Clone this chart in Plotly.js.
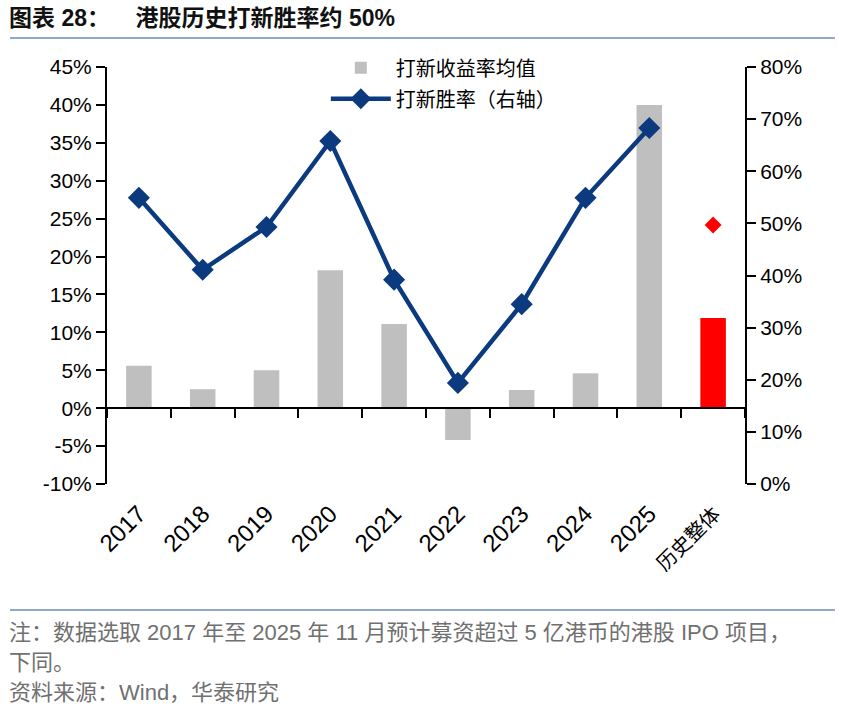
<!DOCTYPE html>
<html>
<head>
<meta charset="utf-8">
<script src="https://cdn.plot.ly/plotly-3.0.1.min.js"></script>
<style>
  body { margin: 0; background: #fff; }
  #chart { width: 842px; height: 712px; }
</style>
</head>
<body>
<div id="chart"></div>
<script>
// categories (x axis)
const categories = ['2017', '2018', '2019', '2020', '2021', '2022', '2023', '2024', '2025', '历史整体'];
// average first-day return of new listings, % (left axis)
const avgReturn = [5.6, 2.5, 5.0, 18.2, 11.1, -4.2, 2.4, 4.6, 40.0, 11.9];
// win rate by year, % (right axis)
const winYears = ['2017', '2018', '2019', '2020', '2021', '2022', '2023', '2024', '2025'];
const winRate = [54.9, 41.1, 49.3, 65.8, 39.2, 19.4, 34.5, 54.9, 68.3];
// overall win rate, % (right axis)
const overallCat = ['历史整体'];
const overallWin = [49.7];

const leftTicks = [-10, -5, 0, 5, 10, 15, 20, 25, 30, 35, 40, 45];
const rightTicks = [0, 10, 20, 30, 40, 50, 60, 70, 80];

const NAVY = '#0B3A7E';
const GREY = '#BFBFBF';
const RED = '#FF0000';
const TEXT = '#000000';
const NOTE = '#707070';
const RULE = '#8FA9C9';
const FONT = '"Liberation Sans", Arial, "Noto Sans CJK SC", sans-serif';
const CJK = '"Noto Sans CJK SC", "Liberation Sans", sans-serif';

const barColors = categories.map(c => c === '历史整体' ? RED : GREY);
// the Chinese category label is set a little smaller than the years
const catLabels = categories.map(c => /^\d+$/.test(c) ? c : '<span style="font-size:20px">' + c + '</span>');

const traces = [
    {
        x: categories,
        y: avgReturn,
        type: 'bar',
        name: '打新收益率均值',
        legendgroup: 'a',
        marker: { color: barColors, line: { width: 0 } },
        width: 0.4,
        xaxis: 'x',
        yaxis: 'y'
    },
    {
        x: winYears,
        y: winRate,
        type: 'scatter',
        mode: 'lines+markers',
        name: '打新胜率（右轴）',
        legendgroup: 'b',
        line: { color: NAVY, width: 4.5 },
        marker: { symbol: 'diamond', size: 17, color: NAVY },
        xaxis: 'x',
        yaxis: 'y2'
    },
    {
        x: overallCat,
        y: overallWin,
        type: 'scatter',
        mode: 'markers',
        showlegend: false,
        marker: { symbol: 'diamond', size: 13, color: RED },
        xaxis: 'x',
        yaxis: 'y2'
    },
    {
        // carries the category labels along the bottom edge
        x: categories,
        y: categories.map(() => null),
        type: 'scatter',
        mode: 'markers',
        showlegend: false,
        hoverinfo: 'skip',
        xaxis: 'x2',
        yaxis: 'y'
    }
];

const tickAxis = {
    showline: true,
    linecolor: '#000',
    linewidth: 2,
    ticks: 'outside',
    ticklen: 9,
    tickwidth: 2,
    tickcolor: '#000',
    showgrid: false,
    zeroline: false,
    tickfont: { family: FONT, size: 21, color: TEXT }
};

const layout = {
    width: 842,
    height: 712,
    paper_bgcolor: '#ffffff',
    plot_bgcolor: '#ffffff',
    font: { family: FONT, color: TEXT, size: 21 },
    margin: { l: 107, r: 97, t: 67, b: 228 },
    showlegend: true,
    legend: {
        x: 0.343,
        y: 1.045,
        xanchor: 'left',
        yanchor: 'top',
        bgcolor: 'rgba(0,0,0,0)',
        font: { family: CJK, size: 20, color: TEXT },
        traceorder: 'grouped',
        tracegroupgap: 2,
        itemwidth: 60
    },
    xaxis: Object.assign({}, tickAxis, {
        type: 'category',
        categoryarray: categories,
        range: [-0.5, categories.length - 0.5],
        anchor: 'free',
        position: 10 / 55,
        tickson: 'boundaries',
        showticklabels: false
    }),
    xaxis2: {
        type: 'category',
        categoryarray: categories,
        tickvals: categories,
        ticktext: catLabels,
        range: [-0.5, categories.length - 0.5],
        overlaying: 'x',
        anchor: 'y',
        side: 'bottom',
        showline: false,
        ticks: '',
        tickangle: -45,
        ticklabelstandoff: 10,
        tickfont: { family: FONT, size: 24, color: TEXT },
        showgrid: false,
        zeroline: false
    },
    yaxis: Object.assign({}, tickAxis, {
        range: [-10, 45],
        tickvals: leftTicks,
        ticktext: leftTicks.map(v => v + '%')
    }),
    yaxis2: Object.assign({}, tickAxis, {
        range: [0, 80],
        tickvals: rightTicks,
        ticktext: rightTicks.map(v => v + '%'),
        overlaying: 'y',
        side: 'right'
    }),
    shapes: [
        { type: 'line', xref: 'paper', yref: 'paper', x0: -0.152, x1: 1.141, y0: 1.0695, y1: 1.0695,
          line: { color: RULE, width: 2 } },
        { type: 'line', xref: 'paper', yref: 'paper', x0: -0.152, x1: 1.141, y0: -0.302, y1: -0.302,
          line: { color: RULE, width: 2 } }
    ],
    annotations: [
        { xref: 'paper', yref: 'paper', x: -0.157, y: 1.117, xanchor: 'left', yanchor: 'middle',
          showarrow: false, text: '<b>图表 28：    港股历史打新胜率约 50%</b>',
          font: { family: FONT, size: 23, color: '#111' } },
        { xref: 'paper', yref: 'paper', x: -0.157, y: -0.357, xanchor: 'left', yanchor: 'middle',
          showarrow: false, text: '注：数据选取 2017 年至 2025 年 11 月预计募资超过 5 亿港币的港股 IPO 项目，',
          font: { family: FONT, size: 22, color: NOTE } },
        { xref: 'paper', yref: 'paper', x: -0.157, y: -0.427, xanchor: 'left', yanchor: 'middle',
          showarrow: false, text: '下同。',
          font: { family: FONT, size: 22, color: NOTE } },
        { xref: 'paper', yref: 'paper', x: -0.157, y: -0.501, xanchor: 'left', yanchor: 'middle',
          showarrow: false, text: '资料来源：Wind，华泰研究',
          font: { family: FONT, size: 22, color: NOTE } }
    ]
};

Plotly.newPlot('chart', traces, layout, { displayModeBar: false, staticPlot: true });
</script>
</body>
</html>
